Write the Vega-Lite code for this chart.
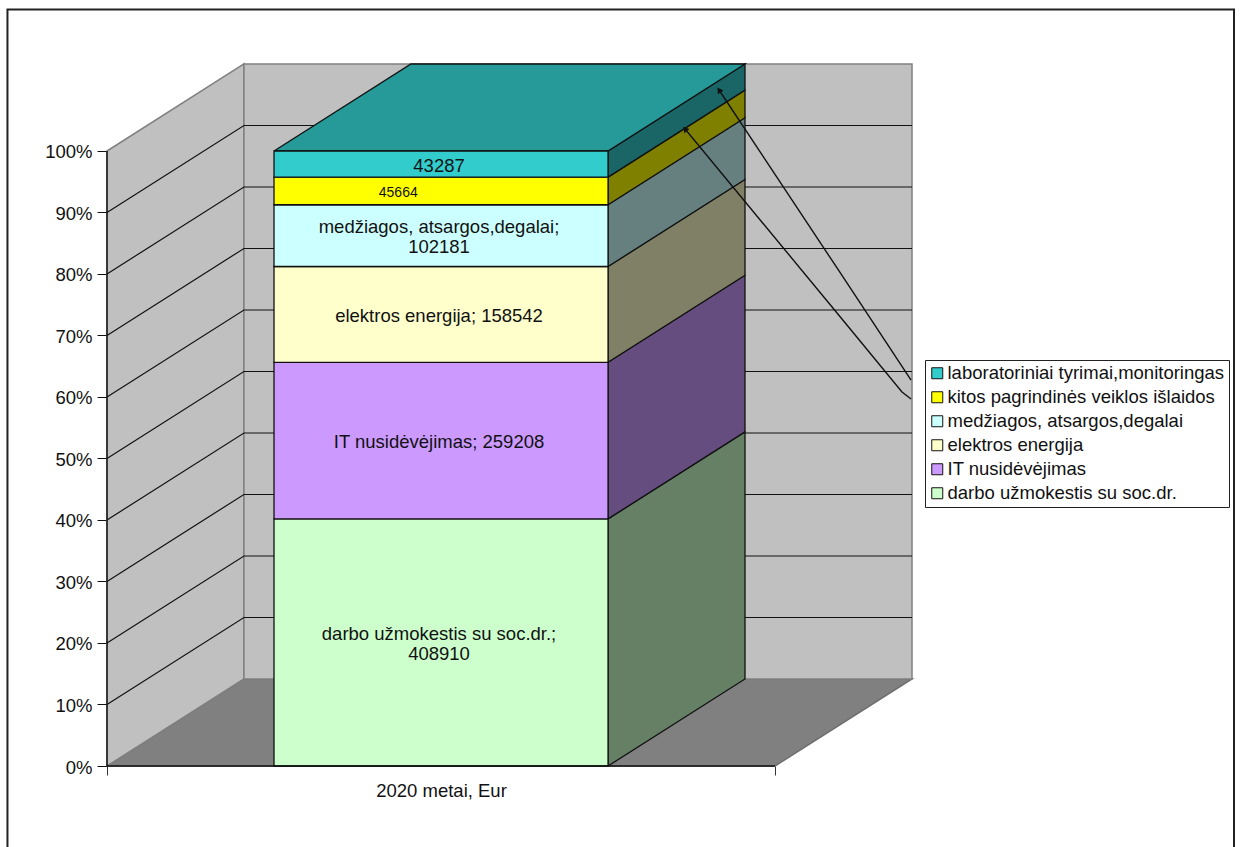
{"$schema":"https://vega.github.io/schema/vega-lite/v6.json","width":805,"height":702,"autosize":"none","padding":{"left":107,"top":64,"right":329,"bottom":81},"background":"white","config":{"view":{"stroke":null},"font":"Liberation Sans"},
"datasets":{
"costs":[{"item":"darbo užmokestis su soc.dr.","value":408910,"rank":1,"label":"darbo užmokestis su soc.dr.;\n408910","lines":2},{"item":"IT nusidėvėjimas","value":259208,"rank":2,"label":"IT nusidėvėjimas; 259208","lines":1},{"item":"elektros energija","value":158542,"rank":3,"label":"elektros energija; 158542","lines":1},{"item":"medžiagos, atsargos,degalai","value":102181,"rank":4,"label":"medžiagos, atsargos,degalai;\n102181","lines":2},{"item":"kitos pagrindinės veiklos išlaidos","value":45664,"rank":5,"label":"45664","lines":0},{"item":"laboratoriniai tyrimai,monitoringas","value":43287,"rank":6,"label":"43287","lines":1}],
"walls":[
{"p":"floor","i":0,"x":0,"y":0},{"p":"floor","i":1,"x":20.5,"y":0.1415},{"p":"floor","i":2,"x":120.5,"y":0.1415},{"p":"floor","i":3,"x":100,"y":0},{"p":"floor","i":4,"x":0,"y":0}],
"planes":[
{"p":"left","i":0,"x":0,"y":0},{"p":"left","i":1,"x":20.5,"y":0.1415},{"p":"left","i":2,"x":20.5,"y":1.1415},{"p":"left","i":3,"x":0,"y":1},{"p":"left","i":4,"x":0,"y":0},
{"p":"back","i":0,"x":20.5,"y":0.1415},{"p":"back","i":1,"x":120.5,"y":0.1415},{"p":"back","i":2,"x":120.5,"y":1.1415},{"p":"back","i":3,"x":20.5,"y":1.1415},{"p":"back","i":4,"x":20.5,"y":0.1415}],
"grid":[
{"g":10,"i":0,"x":0,"y":0.1},{"g":10,"i":1,"x":20.5,"y":0.2415},{"g":10,"i":2,"x":120.5,"y":0.2415},
{"g":20,"i":0,"x":0,"y":0.2},{"g":20,"i":1,"x":20.5,"y":0.3415},{"g":20,"i":2,"x":120.5,"y":0.3415},
{"g":30,"i":0,"x":0,"y":0.3},{"g":30,"i":1,"x":20.5,"y":0.4415},{"g":30,"i":2,"x":120.5,"y":0.4415},
{"g":40,"i":0,"x":0,"y":0.4},{"g":40,"i":1,"x":20.5,"y":0.5415},{"g":40,"i":2,"x":120.5,"y":0.5415},
{"g":50,"i":0,"x":0,"y":0.5},{"g":50,"i":1,"x":20.5,"y":0.6415},{"g":50,"i":2,"x":120.5,"y":0.6415},
{"g":60,"i":0,"x":0,"y":0.6},{"g":60,"i":1,"x":20.5,"y":0.7415},{"g":60,"i":2,"x":120.5,"y":0.7415},
{"g":70,"i":0,"x":0,"y":0.7},{"g":70,"i":1,"x":20.5,"y":0.8415},{"g":70,"i":2,"x":120.5,"y":0.8415},
{"g":80,"i":0,"x":0,"y":0.8},{"g":80,"i":1,"x":20.5,"y":0.9415},{"g":80,"i":2,"x":120.5,"y":0.9415},
{"g":90,"i":0,"x":0,"y":0.9},{"g":90,"i":1,"x":20.5,"y":1.0415},{"g":90,"i":2,"x":120.5,"y":1.0415}],
"sides":[
{"item":"darbo užmokestis su soc.dr.","i":0,"x":75,"y":0},{"item":"darbo užmokestis su soc.dr.","i":1,"x":95.5,"y":0.1415},{"item":"darbo užmokestis su soc.dr.","i":2,"x":95.5,"y":0.5433},{"item":"darbo užmokestis su soc.dr.","i":3,"x":75,"y":0.4018},{"item":"darbo užmokestis su soc.dr.","i":4,"x":75,"y":0},
{"item":"IT nusidėvėjimas","i":0,"x":75,"y":0.4018},{"item":"IT nusidėvėjimas","i":1,"x":95.5,"y":0.5433},{"item":"IT nusidėvėjimas","i":2,"x":95.5,"y":0.798},{"item":"IT nusidėvėjimas","i":3,"x":75,"y":0.6565},{"item":"IT nusidėvėjimas","i":4,"x":75,"y":0.4018},
{"item":"elektros energija","i":0,"x":75,"y":0.6565},{"item":"elektros energija","i":1,"x":95.5,"y":0.798},{"item":"elektros energija","i":2,"x":95.5,"y":0.9537},{"item":"elektros energija","i":3,"x":75,"y":0.8122},{"item":"elektros energija","i":4,"x":75,"y":0.6565},
{"item":"medžiagos, atsargos,degalai","i":0,"x":75,"y":0.8122},{"item":"medžiagos, atsargos,degalai","i":1,"x":95.5,"y":0.9537},{"item":"medžiagos, atsargos,degalai","i":2,"x":95.5,"y":1.0541},{"item":"medžiagos, atsargos,degalai","i":3,"x":75,"y":0.9126},{"item":"medžiagos, atsargos,degalai","i":4,"x":75,"y":0.8122},
{"item":"kitos pagrindinės veiklos išlaidos","i":0,"x":75,"y":0.9126},{"item":"kitos pagrindinės veiklos išlaidos","i":1,"x":95.5,"y":1.0541},{"item":"kitos pagrindinės veiklos išlaidos","i":2,"x":95.5,"y":1.099},{"item":"kitos pagrindinės veiklos išlaidos","i":3,"x":75,"y":0.9575},{"item":"kitos pagrindinės veiklos išlaidos","i":4,"x":75,"y":0.9126},
{"item":"laboratoriniai tyrimai,monitoringas","i":0,"x":75,"y":0.9575},{"item":"laboratoriniai tyrimai,monitoringas","i":1,"x":95.5,"y":1.099},{"item":"laboratoriniai tyrimai,monitoringas","i":2,"x":95.5,"y":1.1415},{"item":"laboratoriniai tyrimai,monitoringas","i":3,"x":75,"y":1},{"item":"laboratoriniai tyrimai,monitoringas","i":4,"x":75,"y":0.9575}],
"top":[{"i":0,"x":25,"y":1},{"i":1,"x":75,"y":1},{"i":2,"x":95.5,"y":1.1415},{"i":3,"x":45.5,"y":1.1415},{"i":4,"x":25,"y":1}],
"arrows":[
{"a":"lab","i":0,"x":120.36,"y":0.6276},{"a":"lab","i":1,"x":109.28,"y":0.8098},{"a":"lab","i":2,"x":91.62,"y":1.0992},
{"a":"kitos","i":0,"x":120.36,"y":0.5967},{"a":"kitos","i":1,"x":119.0,"y":0.6081},{"a":"kitos","i":2,"x":109.28,"y":0.7366},{"a":"kitos","i":3,"x":86.53,"y":1.0358}],
"axes":[{"l":"v","i":0,"x":0,"y":1},{"l":"v","i":1,"x":0,"y":0},{"l":"h","i":0,"x":0,"y":0},{"l":"h","i":1,"x":100,"y":0}],
"frame":[{"i":0,"x":-14.9,"y":-0.1317},{"i":1,"x":-14.9,"y":1.2301},{"i":2,"x":168.7,"y":1.2301},{"i":3,"x":168.7,"y":-0.1317}]
},
"encoding":{
"y":{"field":"y","type":"quantitative","scale":{"domain":[0,1.14146],"nice":false,"zero":false},"axis":{"values":[0,0.1,0.2,0.3,0.4,0.5,0.6,0.7,0.8,0.9,1],"format":".0%","grid":false,"domain":false,"tickSize":10,"tickColor":"#111111","labelFont":"Liberation Sans","labelFontSize":18.5,"labelColor":"#111111","labelPadding":5,"labelOffset":1,"title":null}}
},
"layer":[
{"data":{"name":"walls"},"mark":{"type":"line","fill":"#808080","stroke":"#6e6e6e","strokeWidth":1.5},"encoding":{"x":{"field":"x","type":"quantitative","scale":{"domain":[0,120.5],"nice":false,"zero":false},"axis":{"values":[0,100],"labels":false,"grid":false,"domain":false,"tickSize":9,"tickColor":"#333333","title":"2020 metai, Eur","titleFont":"Liberation Sans","titleFontSize":18.5,"titleFontWeight":"normal","titleColor":"#111111","titleX":334,"titleY":24,"titleBaseline":"middle","titleAnchor":null}},"order":{"field":"i"}}},
{"data":{"name":"planes"},"mark":{"type":"line","fill":"#c0c0c0","stroke":"#808080","strokeWidth":1.5},"encoding":{"x":{"field":"x","type":"quantitative"},"detail":{"field":"p"},"order":{"field":"i"}}},
{"data":{"name":"grid"},"mark":{"type":"line","stroke":"#111111","strokeWidth":1.2},"encoding":{"x":{"field":"x","type":"quantitative"},"detail":{"field":"g"},"order":{"field":"i"}}},
{"data":{"name":"sides"},"mark":{"type":"line","stroke":"#111111","strokeWidth":1.3},"encoding":{"x":{"field":"x","type":"quantitative"},"fill":{"field":"item","type":"nominal","legend":null,"scale":{"domain":["laboratoriniai tyrimai,monitoringas","kitos pagrindinės veiklos išlaidos","medžiagos, atsargos,degalai","elektros energija","IT nusidėvėjimas","darbo užmokestis su soc.dr."],"range":["#1a6666","#808000","#668080","#808066","#664d80","#668066"]}},"detail":{"field":"item"},"order":{"field":"i"}}},
{"data":{"name":"top"},"mark":{"type":"line","fill":"#269999","stroke":"#111111","strokeWidth":1.3},"encoding":{"x":{"field":"x","type":"quantitative"},"order":{"field":"i"}}},
{"data":{"name":"costs"},"transform":[{"stack":"value","groupby":[],"sort":[{"field":"rank","order":"ascending"}],"offset":"normalize","as":["y0","y1"]}],"mark":{"type":"rect","stroke":"#111111","strokeWidth":1.3},"encoding":{"x":{"datum":25},"x2":{"datum":75},"y":{"field":"y0","type":"quantitative"},"y2":{"field":"y1"},"fill":{"field":"item","type":"nominal","scale":{"domain":["laboratoriniai tyrimai,monitoringas","kitos pagrindinės veiklos išlaidos","medžiagos, atsargos,degalai","elektros energija","IT nusidėvėjimas","darbo užmokestis su soc.dr."],"range":["#33cccc","#ffff00","#ccffff","#ffffcc","#cc99ff","#ccffcc"]},"legend":{"orient":"none","legendX":818,"legendY":296,"title":null,"fillColor":"white","strokeColor":"#222222","padding":4,"symbolType":"square","symbolSize":121,"symbolOffset":-1,"symbolStrokeColor":"#111111","symbolStrokeWidth":1,"labelFont":"Liberation Sans","labelFontSize":18.5,"labelColor":"#111111","labelLimit":400,"rowPadding":5,"labelOffset":1}}}},
{"data":{"name":"costs"},"transform":[{"stack":"value","groupby":[],"sort":[{"field":"rank","order":"ascending"}],"offset":"normalize","as":["y0","y1"]},{"calculate":"(datum.y0+datum.y1)/2","as":"mid"},{"filter":"datum.lines === 1"}],"mark":{"type":"text","font":"Liberation Sans","fontSize":18.5,"color":"#111111","align":"center","baseline":"middle","dy":1.5},"encoding":{"x":{"datum":49.7},"y":{"field":"mid","type":"quantitative"},"text":{"field":"label"}}},
{"data":{"name":"costs"},"transform":[{"stack":"value","groupby":[],"sort":[{"field":"rank","order":"ascending"}],"offset":"normalize","as":["y0","y1"]},{"calculate":"(datum.y0+datum.y1)/2","as":"mid"},{"filter":"datum.lines === 2"}],"mark":{"type":"text","font":"Liberation Sans","fontSize":18.5,"color":"#111111","lineBreak":"\n","lineHeight":20,"align":"center","baseline":"middle","dy":-8.5},"encoding":{"x":{"datum":49.7},"y":{"field":"mid","type":"quantitative"},"text":{"field":"label"}}},
{"data":{"name":"costs"},"transform":[{"stack":"value","groupby":[],"sort":[{"field":"rank","order":"ascending"}],"offset":"normalize","as":["y0","y1"]},{"calculate":"(datum.y0+datum.y1)/2","as":"mid"},{"filter":"datum.lines === 0"}],"mark":{"type":"text","font":"Liberation Sans","fontSize":14,"color":"#111111","align":"center","baseline":"middle","dy":2},"encoding":{"x":{"datum":43.6},"y":{"field":"mid","type":"quantitative"},"text":{"field":"label"}}},
{"data":{"name":"arrows"},"mark":{"type":"line","stroke":"#111111","strokeWidth":1.4},"encoding":{"x":{"field":"x","type":"quantitative"},"detail":{"field":"a"},"order":{"field":"i"}}},
{"data":{"name":"arrows"},"transform":[{"filter":"datum.a === 'lab' && datum.i === 2"}],"mark":{"type":"point","shape":"triangle-up","filled":true,"color":"#111111","size":45,"opacity":1,"angle":326.5},"encoding":{"x":{"field":"x","type":"quantitative"}}},
{"data":{"name":"arrows"},"transform":[{"filter":"datum.a === 'kitos' && datum.i === 3"}],"mark":{"type":"point","shape":"triangle-up","filled":true,"color":"#111111","size":45,"opacity":1,"angle":320.4},"encoding":{"x":{"field":"x","type":"quantitative"}}},
{"data":{"name":"axes"},"mark":{"type":"line","stroke":"#111111","strokeWidth":1.4},"encoding":{"x":{"field":"x","type":"quantitative"},"detail":{"field":"l"},"order":{"field":"i"}}},
{"data":{"name":"frame"},"mark":{"type":"line","stroke":"#222222","strokeWidth":2},"encoding":{"x":{"field":"x","type":"quantitative"},"order":{"field":"i"}}}
],
"resolve":{"scale":{"fill":"independent"},"legend":{"fill":"independent"}}
}
